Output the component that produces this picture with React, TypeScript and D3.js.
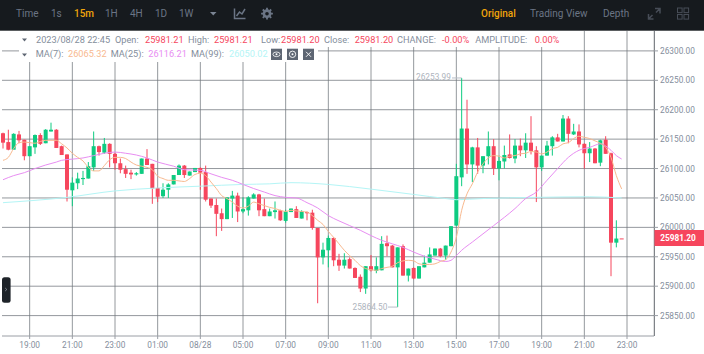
import React from "react";
import * as d3 from "d3";

// [open, high, low, close] for each 15-minute candle
const candles: number[][] = [
  [26160,26161,26134,26144],[26145,26166,26131,26132],[26132,26160,26132,26159],[26158,26164,26143,26148],
  [26149,26149,26114,26121],[26121,26138,26121,26138],[26136,26158,26125,26157],[26157,26160,26140,26142],
  [26143,26167,26143,26166],[26163,26178,26163,26166],[26166,26167,26135,26135],[26138,26139,26123,26123],
  [26124,26124,26044,26064],[26063,26085,26036,26076],[26075,26093,26065,26083],[26082,26096,26072,26084],
  [26083,26111,26083,26104],[26102,26163,26096,26138],[26138,26139,26122,26128],[26127,26152,26125,26142],
  [26142,26143,26102,26125],[26125,26127,26098,26109],[26109,26117,26092,26098],[26099,26105,26084,26091],
  [26093,26098,26082,26090],[26090,26094,26088,26092],[26091,26117,26091,26117],[26117,26133,26106,26106],
  [26108,26108,26040,26066],[26067,26068,26043,26052],[26053,26075,26050,26064],[26064,26075,26050,26073],
  [26073,26089,26073,26089],[26089,26107,26089,26105],[26105,26106,26084,26089],[26088,26095,26088,26095],
  [26094,26101,26094,26101],[26101,26102,26064,26093],[26094,26105,26044,26047],[26049,26049,26033,26037],
  [26038,26049,25985,26023],[26024,26032,25994,26014],[26014,26051,26014,26051],[26049,26062,26016,26054],
  [26054,26059,26009,26027],[26027,26051,26024,26031],[26029,26053,26020,26051],[26049,26058,26049,26056],
  [26056,26057,26019,26029],[26031,26049,26019,26019],[26019,26032,26019,26027],[26026,26044,26015,26029],
  [26029,26030,26011,26012],[26011,26030,26008,26027],[26026,26032,26026,26032],[26031,26036,26016,26016],
  [26015,26029,26015,26027],[26026,26027,26012,26024],[26025,26030,25996,25999],[25999,25999,25871,25949],
  [25949,25974,25937,25962],[25961,25986,25932,25982],[25982,25983,25934,25944],[25945,25955,25926,25935],
  [25935,25956,25930,25945],[25946,25949,25930,25930],[25931,25932,25914,25914],[25916,25920,25890,25896],
  [25896,25934,25887,25934],[25934,25953,25925,25927],[25926,25949,25922,25934],[25927,25985,25927,25972],
  [25973,25986,25951,25968],[25969,25970,25932,25932],[25932,25966,25864.5,25966],[25968,25971,25918,25918],
  [25918,25930,25908,25930],[25931,25932,25912,25913],[25913,25934,25913,25934],[25932,25952,25932,25940],
  [25940,25966,25940,25954],[25952,25964,25952,25964],[25964,25965,25949,25951],[25952,25969,25945,25969],
  [25968,26002,25968,26002],[26003,26108,26002,26087],[26085,26253.99,26070,26168],[26168,26217,26091,26107],
  [26107,26137,26077,26136],[26136,26152,26091,26105],[26105,26121,26092,26121],[26121,26163,26107,26138],
  [26138,26150,26089,26100],[26100,26122,26080,26113],[26112,26139,26100,26123],[26124,26158,26117,26118],
  [26117,26150,26109,26139],[26139,26151,26121,26131],[26131,26160,26118,26144],[26144,26189,26124,26130],
  [26131,26138,26043,26102],[26102,26122,26096,26122],[26122,26147,26122,26139],[26138,26155,26122,26153],
  [26153,26159,26146,26146],[26146,26191,26146,26185],[26185,26189,26143,26159],[26158,26176,26157,26163],
  [26163,26175,26136,26141],[26142,26143,26100,26126],[26126,26145,26111,26134],[26134,26135,26109,26109],
  [26110,26149,26104,26148],[26149,26155,26125,26125],[26126,26127,25917,25974],[25974,26012,25966,25981],
  [25981.21,25981.21,25981.2,25981.2],
];

const ma7: number[] = [
  26114,26119,26134,26144,26145,26144,26143,26146,26148,26148,26148,26142,26135,26126,26119,26113,
  26102,26096,26096,26105,26115,26119,26119,26117,26111,26106,26104,26102,26098,26087,26083,26080,
  26080,26079,26078,26083,26090,26092,26088,26077,26066,26054,26049,26043,26036,26033,26036,26043,
  26040,26037,26034,26032,26029,26027,26029,26028,26027,26026,26020,26012,26005,25993,25983,25972,
  25961,25952,25944,25935,25930,25928,25927,25930,25932,25934,25940,25943,25944,25943,25938,25937,
  25937,25938,25942,25945,25958,25983,26029,26057,26074,26094,26108,26118,26122,26121,26118,26121,
  26122,26125,26126,26129,26128,26125,26128,26134,26136,26142,26144,26151,26155,26153,26151,26147,
  26143,26136,26119,26088,26065.32,
];

const ma25Index = [0,2,4,6,8,10,11,13,15,17,19,21,23,25,27,29,32,34,37,39,41,43,45,47,49,51,53,55,57,59,61,63,65,67,69,71,73,75,77,79,81,83,84,85,86,88,90,92,94,96,98,100,102,104,106,108,109,110,112,114,115,116];
const ma25Value = [26081,26088,26093,26100,26106,26111,26114,26116,26118,26122,26126,26128,26126,26123,26118,26111,26104,26098,26097,26091,26085,26080,26073,26066,26060,26054,26051,26050,26042,26033,26020,26011,26003,25995,25986,25978,25972,25966,25958,25951,25946,25942,25944,25952,25961,25975,25989,26003,26017,26032,26049,26060,26080,26100,26119,26131,26134,26136,26142,26131,26122,26116.21];

const ma99Index = [0,12,21,29,37,45,50,54,61,69,77,83,85,90,100,110,116];
const ma99Value = [26042,26051,26062,26067,26070,26073,26074,26076,26073,26065,26056,26049,26047,26049,26051,26052,26050.02];

const priceTicks = [26300,26250,26200,26150,26100,26050,26000,25950,25900,25850];
const timeLabels = ["19:00","21:00","23:00","01:00","08/28","05:00","07:00","09:00","11:00","13:00","15:00","17:00","19:00","21:00","23:00"];
const intervals = [["Time",16,0],["1s",51,0],["15m",74,1],["1H",105,0],["4H",130,0],["1D",155,0],["1W",179,0]] as const;
const views = [["Original",481,1],["Trading View",530,0],["Depth",603,0]] as const;

const RED = "#f6465d", GREEN = "#0ecb81";
const DIM = "#6b7585", LABEL = "#848e9c";
const C7 = "#f8b98f", C25 = "#e88ef2", C99 = "#b4f5f6";
const FONT = "Roboto, 'Liberation Sans', sans-serif";

const row1 = [
  ["2023/08/28 22:45",36,LABEL],["Open:",115,LABEL],["25981.21",145,RED],["High:",188,LABEL],["25981.21",214,RED],
  ["Low:",261,LABEL],["25981.20",281,RED],["Close:",324,LABEL],["25981.20",354.7,RED],["CHANGE:",397,LABEL],
  ["-0.00%",442,RED],["AMPLITUDE:",475.3,LABEL],["0.00%",534.7,RED],
] as const;
const row2 = [
  ["MA(7):",35.7,LABEL],["26065.32",68,C7],["MA(25):",110.7,LABEL],["26116.21",148.3,C25],["MA(99):",191,LABEL],["26050.02",229,C99],
] as const;

export default function App() {
  const x = d3.scaleLinear().domain([0, 117]).range([3, 627]);
  const y = d3.scaleLinear().domain([26300, 25850]).range([50.9, 315.6]);
  const tickIdx = timeLabels.map((_, k) => 5 + 8 * k);
  const line = d3.line<[number, number]>().x(d => x(d[0])).y(d => y(d[1])).curve(d3.curveMonotoneX);
  const bw = 4;
  const gridC = "#70757c";

  return (
    <svg width={704} height={354} style={{ position: "absolute", left: 0, top: 0, background: "#fff", fontFamily: FONT }}>
      {/* grid */}
      {priceTicks.map(p => <line key={p} x1={2} x2={654} y1={y(p)} y2={y(p)} stroke={gridC} strokeWidth={0.75} />)}
      {tickIdx.map(i => <line key={i} x1={x(i)} x2={x(i)} y1={31} y2={336} stroke={gridC} strokeWidth={0.75} />)}
      <line x1={2} x2={654} y1={336} y2={336} stroke="#9a9ea5" strokeWidth={1} />
      <line x1={654.3} x2={654.3} y1={31} y2={336} stroke="#5f646b" strokeWidth={1} />

      {/* legend backgrounds */}
      <rect x={19} y={31} width={541} height={16} fill="#fff" />
      <rect x={19} y={47} width={299} height={15} fill="#fff" />

      {/* candles */}
      {candles.map((c, i) => {
        const [o, h, l, cl] = c;
        const up = cl >= o;
        const col = up ? GREEN : RED;
        const top = y(Math.max(o, cl));
        const bot = y(Math.min(o, cl));
        return (
          <g key={i}>
            <line x1={x(i)} x2={x(i)} y1={y(h)} y2={y(l)} stroke={col} strokeWidth={1} />
            <rect x={x(i) - bw / 2} y={top} width={bw} height={Math.max(bot - top, 1)} fill={col} />
          </g>
        );
      })}

      {/* moving averages */}
      <path d={line(ma99Index.map((d, k) => [d, ma99Value[k]]))!} fill="none" stroke={C99} strokeWidth={1} />
      <path d={line(ma25Index.map((d, k) => [d, ma25Value[k]]))!} fill="none" stroke={C25} strokeWidth={1} />
      <path d={line(ma7.map((d, k) => [k, d]))!} fill="none" stroke={C7} strokeWidth={1} />

      {/* high / low markers */}
      <text x={416} y={80} fontSize={8.3} fill="#aeb4bd">26253.99</text>
      <line x1={452} x2={x(86)} y1={y(26253.99)} y2={y(26253.99)} stroke="#b7bdc6" />
      <text x={352.5} y={310} fontSize={8.3} fill="#aeb4bd">25864.50</text>
      <line x1={388} x2={x(74)} y1={y(25864.5)} y2={y(25864.5)} stroke="#b7bdc6" />

      {/* price axis */}
      {priceTicks.map(p => (
        <g key={p}>
          <line x1={654} x2={658} y1={y(p)} y2={y(p)} stroke="#9a9ea5" />
          <text x={660} y={y(p) + 3} fontSize={8.3} fill={LABEL}>{d3.format(".2f")(p)}</text>
        </g>
      ))}
      <rect x={654.5} y={230} width={49.5} height={16} fill={RED} />
      <text x={678} y={241} fontSize={8.3} fontWeight={700} fill="#fff" textAnchor="middle">25981.20</text>

      {/* time axis */}
      {timeLabels.map((t, k) => (
        <g key={k}>
          <line x1={x(tickIdx[k])} x2={x(tickIdx[k])} y1={336} y2={339} stroke="#9a9ea5" />
          <text x={x(tickIdx[k])} y={348} fontSize={8.3} fill={LABEL} textAnchor="middle">{t}</text>
        </g>
      ))}

      {/* legend rows */}
      <path d="M22 38.5h5l-2.5 3z M22 53.5h5l-2.5 3z" fill="#5e6673" />
      {row1.map(([t, px, col], k) => <text key={k} x={px} y={43} fontSize={9.2} fill={col}>{t}</text>)}
      {row2.map(([t, px, col], k) => <text key={k} x={px} y={57} fontSize={9.2} fill={col}>{t}</text>)}
      <rect x={271} y={48.7} width={11} height={11.3} fill="#5e6673" />
      <ellipse cx={276.5} cy={54.3} rx={3.6} ry={2.3} fill="none" stroke="#fff" strokeWidth={0.8} />
      <circle cx={276.5} cy={54.3} r={1} fill="#fff" />
      <rect x={287} y={48.7} width={11} height={11.3} fill="#5e6673" />
      <circle cx={292.5} cy={54.3} r={3.2} fill="none" stroke="#fff" strokeWidth={0.9} />
      <circle cx={292.5} cy={54.3} r={1} fill="#fff" />
      <rect x={303} y={48.7} width={11} height={11.3} fill="#5e6673" />
      <path d="M306 51.8l5 5M311 51.8l-5 5" stroke="#fff" strokeWidth={0.9} />

      {/* side handle */}
      <rect x={2} y={277.3} width={8.6} height={25.4} rx={2.5} fill="#1e2329" />
      <path d="M5.2 288l1.6 1.5-1.6 1.5" fill="none" stroke="#9aa1ab" strokeWidth={0.8} />

      {/* top bar */}
      <rect x={0} y={0} width={704} height={30.7} fill="#161a1e" />
      {intervals.map(([t, px, on]) => (
        <text key={t} x={px} y={17} fontSize={10} fontWeight={on ? 500 : 400} fill={on ? "#f0a50b" : DIM}>{t}</text>
      ))}
      {views.map(([t, px, on]) => (
        <text key={t} x={px} y={17} fontSize={10} fontWeight={on ? 500 : 400} fill={on ? "#f0a50b" : DIM}>{t}</text>
      ))}
      <path d="M210 12h6.5l-3.25 3.4z" fill="#7b8594" />
      <path d="M234.5 8.5v10h11M236.5 16l3-4 2.5 2 3-5" fill="none" stroke="#6b7585" strokeWidth={1.5} />
      <path d="M267 7.8v11.8M261.1 13.7h11.8M262.8 9.5l8.4 8.4M271.2 9.5l-8.4 8.4" stroke="#6b7585" strokeWidth={1.8} />
      <circle cx={267} cy={13.7} r={4.4} fill="#6b7585" />
      <circle cx={267} cy={13.7} r={1.8} fill="#161a1e" />
      <path d="M648.5 19l4-4M660 8.5l-4 4M655 8.5h5v5M653.5 19h-5v-5" fill="none" stroke="#474d57" strokeWidth={1.5} />
      {[677.5, 684].map(px => [8, 14.5].map(py => (
        <rect key={`${px}${py}`} x={px} y={py} width={4.6} height={4.6} fill="none" stroke="#474d57" strokeWidth={1} />
      )))}
    </svg>
  );
}
